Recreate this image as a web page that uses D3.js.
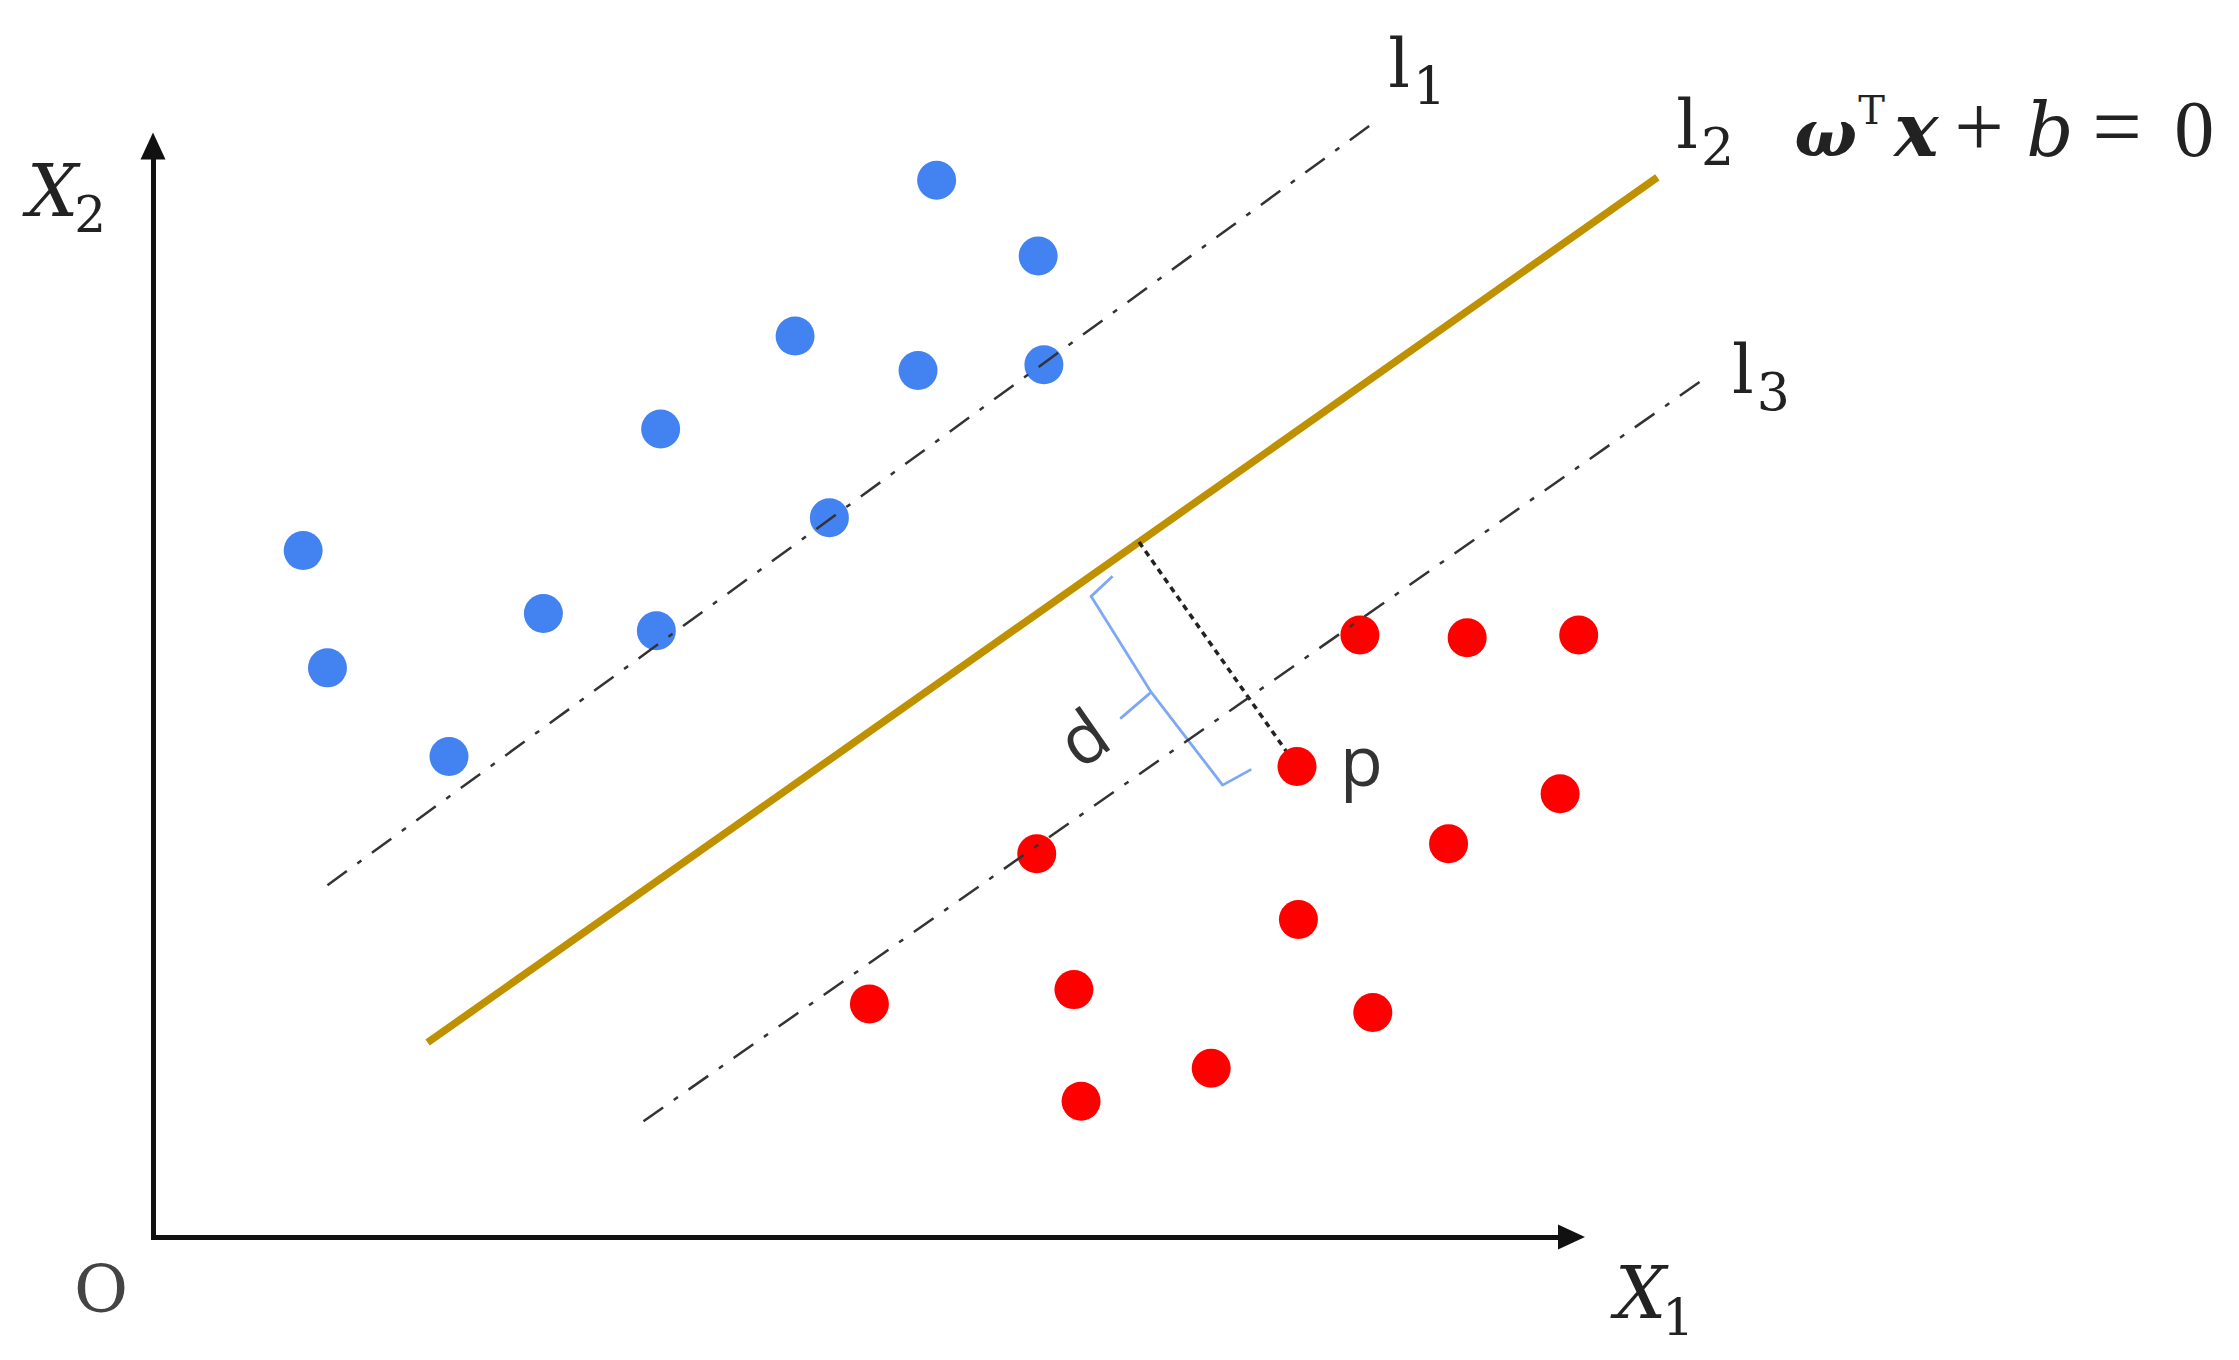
<!DOCTYPE html>
<html><head><meta charset="utf-8">
<script src="https://cdn.jsdelivr.net/npm/d3@7"></script>
<style>html,body{margin:0;padding:0;background:#fff;} svg{display:block;}</style>
</head><body><svg id="chart" width="2239" height="1360"></svg>
<script>
// ---- data (abstract feature space units) ----
const blueX = [5.48, 6.19, 4.49, 5.35, 6.23, 3.55, 4.73, 1.05, 2.73, 3.52, 1.22, 2.07];
const blueY = [7.39, 6.86, 6.30, 6.06, 6.10, 5.65, 5.03, 4.80, 4.36, 4.24, 3.98, 3.36];
const redX  = [8.44, 9.19, 9.97, 8.00, 9.84, 9.06, 6.18, 8.01, 5.01, 6.44, 8.53, 7.40, 6.49];
const redY  = [4.21, 4.19, 4.21, 3.29, 3.10, 2.75, 2.68, 2.22, 1.63, 1.73, 1.57, 1.18, 0.95];
const pIndex = 3; // red point labelled "p"
const lineNames = ["1", "2", "3"];           // subscripts of l1, l2, l3
const lineX1 = [1.22, 1.92, 3.43];
const lineY1 = [2.46, 1.36, 0.81];
const lineX2 = [8.52, 10.52, 10.86];
const lineY2 = [7.78, 7.41, 6.01];
const braceX = [6.71, 6.56, 6.98, 6.77, 6.98, 7.48, 7.68];
const braceY = [4.62, 4.48, 3.81, 3.63, 3.81, 3.16, 3.27];
const axisXMax = 10, axisYMax = 7.71;
const axisLabels = ["X", "1", "X", "2", "O"];
const dLabel = "d", pLabel = "p";

// ---- layout ----
const svg = d3.select("#chart");
const x = d3.scaleLinear().domain([0, 10]).range([153, 1583]);
const y = d3.scaleLinear().domain([0, 10]).range([1237, -193]);
const serif = "'DejaVu Serif', serif";
const sans = "'Open Sans', 'Noto Sans', sans-serif";

// axes (lines from d3 axes, arrowheads added)
const arrowLen = 27, arrowHalf = 12.5;
const xAxisScale = d3.scaleLinear().domain([0, axisXMax]).range([x(0), x(axisXMax) - 14]);
const yAxisScale = d3.scaleLinear().domain([0, axisYMax]).range([y(0), y(axisYMax) + 14]);
const gx = svg.append("g").attr("transform", `translate(0,${y(0)})`)
  .call(d3.axisBottom(xAxisScale).tickValues([]).tickSizeOuter(0));
const gy = svg.append("g").attr("transform", `translate(${x(0)},0)`)
  .call(d3.axisLeft(yAxisScale).tickValues([]).tickSizeOuter(0));
[gx, gy].forEach(g => g.select(".domain").attr("stroke", "#111").attr("stroke-width", 5)
  .attr("stroke-linecap", "square"));
const tipX = x(axisXMax) + 2, tipY = y(axisYMax) - 2;
svg.append("path").attr("fill", "#111")
  .attr("d", `M${tipX},${y(0)}L${tipX - arrowLen},${y(0) - arrowHalf}L${tipX - arrowLen},${y(0) + arrowHalf}Z`);
svg.append("path").attr("fill", "#111")
  .attr("d", `M${x(0)},${tipY}L${x(0) - arrowHalf},${tipY + arrowLen}L${x(0) + arrowHalf},${tipY + arrowLen}Z`);

// gold separating hyperplane l2
svg.append("line")
  .attr("x1", x(lineX1[1])).attr("y1", y(lineY1[1]))
  .attr("x2", x(lineX2[1])).attr("y2", y(lineY2[1]))
  .attr("stroke", "#BF9000").attr("stroke-width", 7.5);

// perpendicular from p to l2
const ax = lineX1[1], ay = lineY1[1], bx = lineX2[1], by = lineY2[1];
const len = Math.hypot(bx - ax, by - ay), ux = (bx - ax) / len, uy = (by - ay) / len;
const px = redX[pIndex], py = redY[pIndex];
const t = (px - ax) * ux + (py - ay) * uy;
const fx = ax + t * ux, fy = ay + t * uy;
svg.append("line")
  .attr("x1", x(fx)).attr("y1", y(fy)).attr("x2", x(px)).attr("y2", y(py))
  .attr("stroke", "#222").attr("stroke-width", 3.5).attr("stroke-dasharray", "6,5");

// brace
svg.append("path")
  .datum(braceX.map((v, i) => [v, braceY[i]]))
  .attr("d", d3.line().x(d => x(d[0])).y(d => y(d[1])))
  .attr("fill", "none").attr("stroke", "#7EA8F4").attr("stroke-width", 2.8)
  .attr("stroke-linejoin", "round");

// points
svg.append("g").selectAll("circle").data(blueX.map((v, i) => [v, blueY[i]])).join("circle")
  .attr("cx", d => x(d[0])).attr("cy", d => y(d[1])).attr("r", 19.5).attr("fill", "#4282F1");
svg.append("g").selectAll("circle").data(redX.map((v, i) => [v, redY[i]])).join("circle")
  .attr("cx", d => x(d[0])).attr("cy", d => y(d[1])).attr("r", 19.5).attr("fill", "#FF0000");

// margin lines l1, l3 (dash-dot)
[0, 2].forEach(i => {
  svg.append("line")
    .attr("x1", x(lineX1[i])).attr("y1", y(lineY1[i]))
    .attr("x2", x(lineX2[i])).attr("y2", y(lineY2[i]))
    .attr("stroke", "#333").attr("stroke-width", 2.5)
    .attr("stroke-dasharray", "24,13,5,13");
});

// line labels l1 l2 l3
const lblOff = [[17, -37], [19, -29], [26, 15]];
lineNames.forEach((s, i) => {
  const t = svg.append("text").attr("font-family", serif).attr("fill", "#222")
    .attr("x", x(lineX2[i]) + lblOff[i][0]).attr("y", y(lineY2[i]) + lblOff[i][1]);
  t.append("tspan").attr("font-size", 68).text("l");
  t.append("tspan").attr("font-size", 52).attr("dy", 17).attr("dx", 3).text(s);
});

// equation
const eqX = x(lineX2[1]) + 137, eqY = y(lineY2[1]) - 21;
const eq = svg.append("g").attr("fill", "#222");
const glyphs = [
  {s: "ω", dx: 0,   dy: 0,   fs: 66, it: true,  bold: true,  fam: serif},
  {s: "T", dx: 64,  dy: -32, fs: 40, it: false, bold: false, fam: serif},
  {s: "x", dx: 100, dy: 0,   fs: 74, it: true,  bold: true,  fam: serif},
  {s: "+", dx: 160, dy: 0,   fs: 88, it: false, bold: false, fam: "'Liberation Serif', serif"},
  {s: "b", dx: 232, dy: 0,   fs: 74, it: true,  bold: false, fam: serif},
  {s: "=", dx: 298, dy: 0,   fs: 88, it: false, bold: false, fam: "'Liberation Serif', serif"},
  {s: "0", dx: 380, dy: 0,   fs: 80, it: false, bold: false, fam: "'Liberation Serif', serif"}
];
glyphs.forEach(g => {
  eq.append("text").attr("x", eqX + g.dx).attr("y", eqY + g.dy)
    .attr("font-family", g.fam).attr("font-size", g.fs)
    .attr("font-style", g.it ? "italic" : "normal")
    .attr("font-weight", g.bold ? "bold" : "normal").text(g.s);
});

// axis labels
const x1 = svg.append("text").attr("font-family", serif).attr("fill", "#222")
  .attr("x", x(axisXMax) + 32).attr("y", y(0) + 81);
x1.append("tspan").attr("font-size", 72).attr("font-style", "italic").text(axisLabels[0]);
x1.append("tspan").attr("font-size", 50).attr("dy", 17).attr("dx", -4).text(axisLabels[1]);
const x2 = svg.append("text").attr("font-family", serif).attr("fill", "#222")
  .attr("x", x(0) - 126).attr("y", y(axisYMax) + 82);
x2.append("tspan").attr("font-size", 72).attr("font-style", "italic").text(axisLabels[2]);
x2.append("tspan").attr("font-size", 50).attr("dy", 16).attr("dx", -4).text(axisLabels[3]);
svg.append("text").attr("font-family", serif).attr("fill", "#444").attr("font-size", 66)
  .attr("x", x(0) - 79).attr("y", y(0) + 75).text(axisLabels[4]);

// d and p labels
const notch = [x(braceX[3]), y(braceY[3])];
svg.append("text").attr("font-family", sans).attr("font-size", 70).attr("fill", "#333")
  .attr("text-anchor", "middle")
  .attr("transform", `translate(${notch[0] - 38},${notch[1] + 20}) rotate(-35)`)
  .attr("y", 25).text(dLabel);
svg.append("text").attr("font-family", sans).attr("font-size", 70).attr("fill", "#333")
  .attr("x", x(px) + 43).attr("y", y(py) + 19).text(pLabel);
</script></body></html>
